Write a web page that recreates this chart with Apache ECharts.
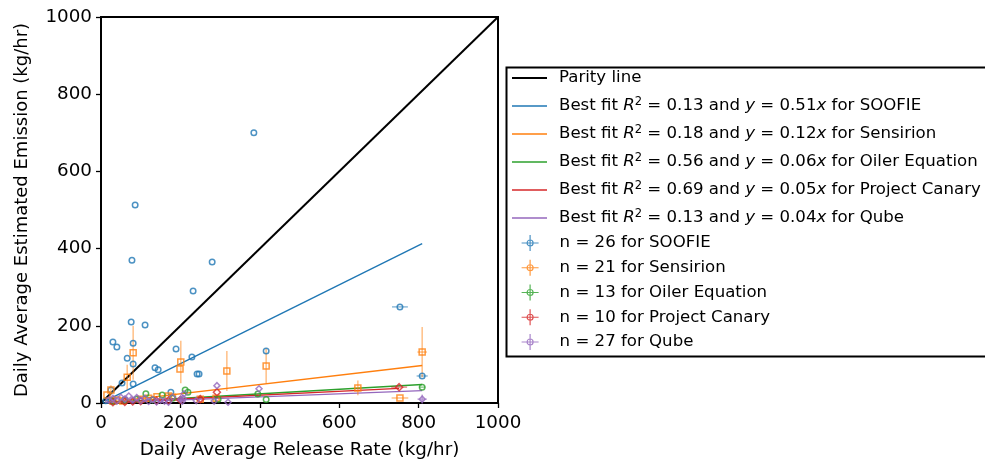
<!DOCTYPE html>
<html><head><meta charset="utf-8">
<script src="https://cdn.jsdelivr.net/npm/echarts@6/dist/echarts.min.js"></script>
<style>html,body{margin:0;padding:0;background:#fff}#c{width:985px;height:462px}</style>
</head><body><div id="c"></div>
<script>
// ---- data ----
const xTicks = [0, 200, 400, 600, 800, 1000];
const yTicks = [0, 200, 400, 600, 800, 1000];

const parityX = [0, 1000];
const parityY = [0, 1000];

// best-fit line end points [x0, x1], [y0, y1]
const fitSoofieX = [10, 809],  fitSoofieY = [5, 413];
const fitSensX   = [10, 809],  fitSensY   = [1, 97];
const fitOilerX  = [10, 809],  fitOilerY  = [0.6, 48];
const fitCanX    = [10, 751],  fitCanY    = [0.5, 38];
const fitQubeX   = [10, 809],  fitQubeY   = [0.4, 32];

const soofieX = [385, 86, 78, 280, 232, 76, 111, 30, 40, 81, 66, 81, 136, 144, 229, 189, 242, 247, 416, 176, 25, 81, 53, 753, 809, 12];
const soofieY = [700, 513, 370, 365, 290, 210, 202, 158, 145, 155, 116, 101, 91, 86, 119, 140, 75, 75, 135, 28, 34, 49, 52, 249, 70, 6];
const soofieXerr = [0,0,0,0,0,0,0,0,0,0,0,0,0,0,0,0,0,0,0,0,0,0,0,20,14,0];
const soofieYerr = [0,0,0,0,0,0,0,0,0,0,0,0,0,0,0,0,0,0,0,0,0,0,0,0,0,0];

const sensX = [809, 753, 647, 416, 317, 201, 199, 81, 66, 25, 15, 141, 40, 55, 100, 120, 180, 250, 290, 30, 170];
const sensY = [132, 13, 39, 96, 83, 106, 88, 130, 67, 34, 21, 16, 8, 5, 10, 12, 15, 10, 12, 5, 18];
const sensXerr = [12, 21, 10, 0, 0, 0, 0, 0, 0, 0, 0, 0, 0, 0, 0, 0, 0, 0, 0, 0, 0];
const sensYerr = [65, 0, 19, 45, 52, 55, 0, 70, 32, 12, 0, 0, 0, 0, 0, 0, 0, 0, 0, 0, 0];

const oilerX = [809, 212, 219, 113, 154, 295, 395, 416, 60, 90, 30, 180, 130];
const oilerY = [41, 34, 28, 24, 21, 10, 23, 9, 8, 10, 4, 12, 8];
const oilerXerr = [8, 0, 0, 0, 0, 0, 0, 0, 0, 0, 0, 0, 0];
const oilerYerr = [0, 0, 0, 0, 0, 0, 0, 0, 0, 0, 0, 0, 0];

const canX = [751, 292, 100, 140, 60, 200, 250, 30, 80, 170];
const canY = [41, 28, 5, 6, 3, 8, 10, 2, 4, 7];
const canXerr = [20, 0, 0, 0, 0, 0, 0, 0, 0, 0];
const canYerr = [0, 0, 0, 0, 0, 0, 0, 0, 0, 0];

const qubeX = [809, 292, 398, 209, 201, 285, 207, 205, 20, 30, 40, 50, 60, 70, 80, 90, 100, 110, 120, 130, 140, 150, 160, 170, 240, 320, 180];
const qubeY = [10, 45, 37, 24, 10, 5, 12, 5, 8, 12, 5, 15, 10, 18, 8, 14, 6, 12, 4, 9, 3, 7, 5, 2, 6, 2, 15];
const qubeXerr = [12,0,0,0,0,0,0,0,0,0,0,0,0,0,0,0,0,0,0,0,0,0,0,0,0,0,0];
const qubeYerr = [12,0,0,0,0,0,0,0,0,0,0,0,0,0,0,0,0,0,0,0,0,0,0,0,0,0,0];

const lineNames = [
  'Parity line',
  'Best fit R² = 0.13 and y = 0.51x for SOOFIE',
  'Best fit R² = 0.18 and y = 0.12x for Sensirion',
  'Best fit R² = 0.56 and y = 0.06x for Oiler Equation',
  'Best fit R² = 0.69 and y = 0.05x for Project Canary',
  'Best fit R² = 0.13 and y = 0.04x for Qube'
];
const pointNames = [
  'n = 26 for SOOFIE',
  'n = 21 for Sensirion',
  'n = 13 for Oiler Equation',
  'n = 10 for Project Canary',
  'n = 27 for Qube'
];

// ---- build chart ----
const colors = ['#1f77b4', '#ff7f0e', '#2ca02c', '#d62728', '#9467bd'];
const FONT = 'DejaVu Sans';
const zip = (a, b) => a.map((v, i) => [v, b[i]]);
const zip4 = (a, b, c, d) => a.map((v, i) => [v, b[i], c[i], d[i]]);

const fits = [[fitSoofieX, fitSoofieY], [fitSensX, fitSensY], [fitOilerX, fitOilerY], [fitCanX, fitCanY], [fitQubeX, fitQubeY]];
const pts = [
  [soofieX, soofieY, soofieXerr, soofieYerr, 'circle', 5.5],
  [sensX, sensY, sensXerr, sensYerr, 'rect', 6],
  [oilerX, oilerY, oilerXerr, oilerYerr, 'circle', 5.5],
  [canX, canY, canXerr, canYerr, 'diamond', 7],
  [qubeX, qubeY, qubeXerr, qubeYerr, 'diamond', 6]
];

const series = [];
series.push({
  name: lineNames[0], type: 'line', data: zip(parityX, parityY), symbol: 'none',
  lineStyle: {color: '#000', width: 2}, itemStyle: {color: '#000'}, z: 2, silent: true, animation: false
});
fits.forEach((f, i) => {
  series.push({
    name: lineNames[i + 1], type: 'line', data: zip(f[0], f[1]), symbol: 'none',
    lineStyle: {color: colors[i], width: 1.4}, itemStyle: {color: colors[i]}, z: 3, silent: true, animation: false
  });
});
pts.forEach((p, i) => {
  const col = colors[i];
  series.push({
    name: 'err' + i, type: 'custom', data: zip4(p[0], p[1], p[2], p[3]), z: 4, silent: true, animation: false,
    encode: {x: 0, y: 1},
    renderItem: function (params, api) {
      const x = api.value(0), y = api.value(1), xe = api.value(2), ye = api.value(3);
      const ch = [];
      if (ye > 0) {
        const a = api.coord([x, y - ye]), b = api.coord([x, y + ye]);
        ch.push({type: 'line', shape: {x1: a[0], y1: a[1], x2: b[0], y2: b[1]}, style: {stroke: col, lineWidth: 1.5, opacity: 0.5}});
      }
      if (xe > 0) {
        const a = api.coord([x - xe, y]), b = api.coord([x + xe, y]);
        ch.push({type: 'line', shape: {x1: a[0], y1: a[1], x2: b[0], y2: b[1]}, style: {stroke: col, lineWidth: 1.5, opacity: 0.5}});
      }
      return {type: 'group', children: ch};
    }
  });
});
pts.forEach((p, i) => {
  series.push({
    name: pointNames[i], type: 'scatter', data: zip(p[0], p[1]), symbol: p[4], symbolSize: p[5], z: 5,
    itemStyle: {color: 'rgba(255,255,255,0)', borderColor: colors[i], borderWidth: 1.5}, silent: true, animation: false
  });
});

const richFmt = (name) => name.replace('R²', '{i|R}{s|2}').replace(' y = ', ' {i|y} = ').replace(/(\d\.\d\d)x/, '$1{i|x}');
const FS = 16.6;
const legendText = {
  fontFamily: FONT, fontSize: FS, color: '#000', lineHeight: 20, padding: [0, 0, 0, 7],
  rich: {
    i: {fontFamily: FONT, fontSize: FS, fontStyle: 'italic', color: '#000', lineHeight: 20},
    s: {fontFamily: FONT, fontSize: 11.5, color: '#000', lineHeight: 10, verticalAlign: 'top'}
  }
};
const ebIcon = 'path://M8.5,0L8.5,16M0,8L17,8M11.5,8A3,3,0,1,1,5.5,8A3,3,0,1,1,11.5,8Z';
const lineColors = ['#000'].concat(colors);

const option = {
  animation: false,
  backgroundColor: '#fff',
  grid: {left: 101, right: 487, top: 17, bottom: 59, outerBoundsMode: 'none', containLabel: false, show: true, borderColor: '#000', borderWidth: 2, backgroundColor: 'transparent'},
  xAxis: {
    type: 'value', min: xTicks[0], max: xTicks[xTicks.length - 1], interval: xTicks[1] - xTicks[0],
    name: 'Daily Average Release Rate (kg/hr)', nameLocation: 'middle', nameGap: 38,
    nameTextStyle: {fontFamily: FONT, fontSize: 18.3, color: '#000'},
    axisLine: {show: true, onZero: false, lineStyle: {color: '#000', width: 2}},
    axisTick: {show: true, inside: false, length: 5, lineStyle: {color: '#000', width: 1.3}},
    axisLabel: {fontFamily: FONT, fontSize: 18.3, color: '#000', margin: 11, formatter: (v) => String(v)},
    splitLine: {show: false}
  },
  yAxis: {
    type: 'value', min: yTicks[0], max: yTicks[yTicks.length - 1], interval: yTicks[1] - yTicks[0],
    name: 'Daily Average Estimated Emission (kg/hr)', nameLocation: 'middle', nameGap: 70, nameRotate: 90,
    nameTextStyle: {fontFamily: FONT, fontSize: 18, color: '#000'},
    axisLine: {show: true, onZero: false, lineStyle: {color: '#000', width: 2}},
    axisTick: {show: true, inside: false, length: 5, lineStyle: {color: '#000', width: 1.3}},
    axisLabel: {fontFamily: FONT, fontSize: 18.3, color: '#000', margin: 9, formatter: (v) => String(v)},
    splitLine: {show: false}
  },
  legend: [
    {
      orient: 'vertical', left: 507, top: 63, itemWidth: 35, itemGap: 8,
      data: lineNames.map((n, i) => ({name: n, icon: 'path://M0,0L35,0L35,' + (i === 0 ? 2 : 1.4) + 'L0,' + (i === 0 ? 2 : 1.4) + 'Z', itemStyle: {color: lineColors[i], borderWidth: 0}})),
      itemHeight: 2,
      formatter: richFmt, textStyle: legendText, selectedMode: false
    },
    {
      orient: 'vertical', left: 516, top: 228, itemWidth: 17, itemHeight: 16, itemGap: 4.75,
      data: pointNames.map((n, i) => ({name: n, icon: ebIcon, itemStyle: {color: 'rgba(255,255,255,0)', borderColor: colors[i], borderWidth: 1.2}})),
      textStyle: Object.assign({}, legendText, {padding: [0, 0, 0, 16]}), selectedMode: false
    }
  ],
  graphic: [{
    type: 'rect', left: 504, top: 65, shape: {width: 490, height: 289, r: 0},
    style: {fill: 'none', stroke: '#000', lineWidth: 2}, z: 100, silent: true
  }],
  series: series
};
const chart = echarts.init(document.getElementById('c'), null, {renderer: 'canvas'});
chart.setOption(option);
</script></body></html>
